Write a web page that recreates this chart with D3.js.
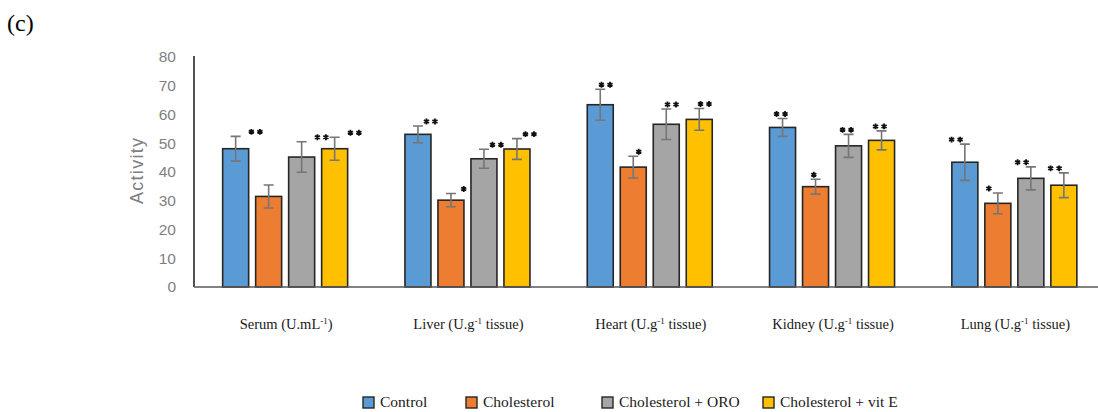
<!DOCTYPE html>
<html>
<head>
<meta charset="utf-8">
<script src="https://cdn.jsdelivr.net/npm/d3@7/dist/d3.min.js"></script>
<style>
  html, body { margin: 0; padding: 0; background: #fff; }
  svg { display: block; }
</style>
</head>
<body>
<svg id="chart" width="1098" height="412"></svg>
<script>
// Enzyme activity per tissue and treatment group (mean ± SD)
const tissues = ["Serum", "Liver", "Heart", "Kidney", "Lung"];
const units = [
  ["Serum (U.mL", "-1", ")"],
  ["Liver (U.g", "-1", " tissue)"],
  ["Heart (U.g", "-1", " tissue)"],
  ["Kidney (U.g", "-1", " tissue)"],
  ["Lung (U.g", "-1", " tissue)"]
];
const groups = ["Control", "Cholesterol", "Cholesterol + ORO", "Cholesterol + vit E"];

const control      = [48.1, 53.1, 63.4, 55.5, 43.4];
const cholesterol  = [31.5, 30.2, 41.7, 34.9, 29.1];
const cholORO      = [45.2, 44.6, 56.6, 49.1, 37.8];
const cholVitE     = [48.1, 48.0, 58.3, 51.0, 35.4];

const controlSD     = [4.3, 2.9, 5.4, 3.1, 6.3];
const cholesterolSD = [4.0, 2.3, 3.8, 2.6, 3.6];
const cholOROSD     = [5.3, 3.3, 5.3, 4.0, 4.0];
const cholVitESD    = [4.0, 3.6, 3.8, 3.3, 4.3];

// significance marks vs. the other groups
const controlSig     = ["**", "**", "**", "**", "**"];
const cholesterolSig = ["", "*", "*", "*", "*"];
const cholOROSig     = ["**", "**", "**", "**", "**"];
const cholVitESig    = ["**", "**", "**", "**", "**"];

const yTicks = [0, 10, 20, 30, 40, 50, 60, 70, 80];
const colors = ["#5b9bd5", "#ed7d31", "#a5a5a5", "#ffc000"];

const means = [control, cholesterol, cholORO, cholVitE];
const sds = [controlSD, cholesterolSD, cholOROSD, cholVitESD];
const sigs = [controlSig, cholesterolSig, cholOROSig, cholVitESig];

const rows = [];
tissues.forEach((t, i) => {
  groups.forEach((g, j) => {
    rows.push({ tissue: t, group: g, gi: j, ti: i, value: means[j][i], sd: sds[j][i], sig: sigs[j][i] });
  });
});

const svg = d3.select("#chart");
const plotLeft = 194, plotTop = 57, plotBottom = 287;
const groupStep = 182.3;

const x0 = d3.scaleBand().domain(tissues).range([plotLeft, plotLeft + groupStep * tissues.length]).padding(0);
const innerW = 132;
const x1 = d3.scaleBand().domain(groups)
  .range([(x0.bandwidth() - innerW) / 2, (x0.bandwidth() + innerW) / 2])
  .paddingInner(0.212).paddingOuter(0.106);
const y = d3.scaleLinear().domain([0, 80]).range([plotBottom, plotTop]);
const color = d3.scaleOrdinal().domain(groups).range(colors);

// panel tag
svg.append("text").attr("x", 7).attr("y", 31)
  .attr("font-family", "'Liberation Serif', 'Times New Roman', serif")
  .attr("font-size", 24).attr("fill", "#000").text("(c)");

// y axis
const yAxis = d3.axisLeft(y).tickValues(yTicks).tickSize(0).tickPadding(18);
const gy = svg.append("g").attr("transform", `translate(${plotLeft},0)`).call(yAxis);
gy.select(".domain").attr("stroke", "#1a1a1a").attr("stroke-width", 1.5)
  .attr("d", `M0,${plotTop - 1}V${plotBottom}`);
gy.selectAll(".tick text")
  .attr("font-family", "'Liberation Sans', Arial, sans-serif")
  .attr("font-size", 15.5).attr("fill", "#7f7f7f");

svg.append("text")
  .attr("transform", `translate(143,171) rotate(-90)`)
  .attr("text-anchor", "middle")
  .attr("font-family", "'Liberation Sans', Arial, sans-serif")
  .attr("font-size", 18).attr("fill", "#7f7f7f")
  .attr("textLength", 66).attr("lengthAdjust", "spacing")
  .text("Activity");

// bars
const bars = svg.append("g");
bars.selectAll("rect").data(rows).join("rect")
  .attr("x", d => x0(d.tissue) + x1(d.group))
  .attr("y", d => y(d.value))
  .attr("width", x1.bandwidth())
  .attr("height", d => y(0) - y(d.value))
  .attr("fill", d => color(d.group))
  .attr("stroke", "#262626").attr("stroke-width", 1.6);

// x baseline
svg.append("line").attr("x1", plotLeft).attr("x2", 1098).attr("y1", y(0)).attr("y2", y(0))
  .attr("stroke", "#595959").attr("stroke-width", 1.6);

// error bars
const cap = 5;
const eb = svg.append("g").attr("stroke", "#767676").attr("stroke-width", 1.6).attr("fill", "none");
eb.selectAll("path").data(rows).join("path")
  .attr("d", d => {
    const cx = x0(d.tissue) + x1(d.group) + x1.bandwidth() / 2;
    const yt = y(d.value + d.sd), yb = y(d.value - d.sd);
    return `M${cx},${yt}V${yb}M${cx - cap},${yt}H${cx + cap}M${cx - cap},${yb}H${cx + cap}`;
  });

// significance stars, drifting slightly from right of bar to left across panels
const shift = d3.scaleLinear().domain([0, tissues.length - 1]).range([20, -9]);
const star = d3.symbol().type(d3.symbolAsterisk).size(24);
const sg = svg.append("g");
rows.filter(d => d.sig.length).forEach(d => {
  const cx = x0(d.tissue) + x1(d.group) + x1.bandwidth() / 2 + shift(d.ti);
  const cy = y(d.value + d.sd) - 4.5;
  const n = d.sig.length;
  for (let k = 0; k < n; k++) {
    const sx = cx + (k - (n - 1) / 2) * 8.5;
    sg.append("path").attr("d", star())
      .attr("transform", `translate(${sx},${cy})`)
      .attr("stroke", "#111").attr("stroke-width", 1.8).attr("fill", "#111");
  }
});

// category labels
const cat = svg.append("g")
  .attr("font-family", "'Liberation Serif', 'Times New Roman', serif")
  .attr("font-size", 14.5).attr("fill", "#1a1a1a");
tissues.forEach((t, i) => {
  const txt = cat.append("text")
    .attr("x", x0(t) + x0.bandwidth() / 2 + 1)
    .attr("y", 329).attr("text-anchor", "middle");
  txt.append("tspan").text(units[i][0]);
  txt.append("tspan").attr("font-size", 9).attr("dy", -5).text(units[i][1]);
  txt.append("tspan").attr("dy", 5).text(units[i][2]);
});

// legend
const lg = svg.append("g")
  .attr("font-family", "'Liberation Serif', 'Times New Roman', serif")
  .attr("font-size", 15.5).attr("fill", "#1a1a1a");
const legendX = [363, 466, 602, 763];
groups.forEach((g, j) => {
  const item = lg.append("g").attr("transform", `translate(${legendX[j]},397)`);
  item.append("rect").attr("width", 11).attr("height", 11)
    .attr("fill", color(g)).attr("stroke", "#262626").attr("stroke-width", 1.4);
  item.append("text").attr("x", 17).attr("y", 10).text(g);
});
</script>
</body>
</html>
